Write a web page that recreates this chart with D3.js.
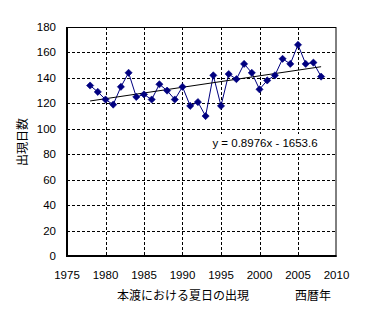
<!DOCTYPE html>
<html>
<head>
<meta charset="utf-8">
<script src="https://cdn.jsdelivr.net/npm/d3@7"></script>
<style>
  html, body { margin: 0; padding: 0; background: #fff; }
  svg { display: block; }
  text { font-family: Arial, "Liberation Sans", sans-serif; fill: #000; }
  .jp { font-family: "Noto Sans CJK JP", sans-serif; }
</style>
</head>
<body>
<svg id="chart" width="380" height="322"></svg>
<script>
// Summer days (max temp >= 25°C) per year at Hondo
const years = [1978, 1979, 1980, 1981, 1982, 1983, 1984, 1985, 1986, 1987, 1988,
               1989, 1990, 1991, 1992, 1993, 1994, 1995, 1996, 1997, 1998, 1999,
               2000, 2001, 2002, 2003, 2004, 2005, 2006, 2007, 2008];
const days = [134, 129, 123, 119, 133, 144, 125, 127, 123, 135, 130,
              123, 133, 118, 121, 110, 142, 118, 143, 139, 151, 144,
              131, 138, 142, 155, 151, 166, 151, 152, 141];

// Linear trend: y = slope * x + intercept
const trendSlope = 0.8976;
const trendIntercept = -1653.6;
const trendLabel = "y = 0.8976x - 1653.6";

const xTicks = [1975, 1980, 1985, 1990, 1995, 2000, 2005, 2010];
const yTicks = [0, 20, 40, 60, 80, 100, 120, 140, 160, 180];

const xTitle = "本渡における夏日の出現";
const xUnit = "西暦年";
const yTitle = "出現日数";

const svg = d3.select("#chart");
const plotL = 67, plotR = 336.5, plotT = 27, plotB = 256;

const x = d3.scaleLinear().domain([1975, 2010]).range([plotL, plotR]);
const y = d3.scaleLinear().domain([0, 180]).range([plotB, plotT]);

// dashed grid
svg.append("g").selectAll("line")
  .data(yTicks.filter(t => t > 0 && t < 180))
  .join("line")
  .attr("x1", plotL).attr("x2", plotR)
  .attr("y1", d => Math.round(y(d)) + 0.5).attr("y2", d => Math.round(y(d)) + 0.5)
  .attr("stroke", "#000").attr("stroke-width", 1)
  .attr("stroke-dasharray", "3,2");

svg.append("g").selectAll("line")
  .data(xTicks.filter(t => t > 1975 && t < 2010))
  .join("line")
  .attr("y1", plotT).attr("y2", plotB)
  .attr("x1", d => Math.round(x(d)) + 0.5).attr("x2", d => Math.round(x(d)) + 0.5)
  .attr("stroke", "#000").attr("stroke-width", 1)
  .attr("stroke-dasharray", "3,2");

// plot frame
svg.append("rect")
  .attr("x", plotL + 0.5).attr("y", plotT + 0.5)
  .attr("width", plotR - plotL - 1).attr("height", plotB - plotT)
  .attr("fill", "none").attr("stroke", "#000").attr("stroke-width", 1);
svg.append("line")
  .attr("x1", plotL).attr("x2", plotL).attr("y1", plotT).attr("y2", plotB + 1)
  .attr("stroke", "#000").attr("stroke-width", 2);
svg.append("line")
  .attr("x1", plotL).attr("x2", plotR).attr("y1", plotB).attr("y2", plotB)
  .attr("stroke", "#000").attr("stroke-width", 2);

// tick labels
svg.append("g").selectAll("text")
  .data(yTicks).join("text")
  .attr("x", 56).attr("y", d => y(d))
  .attr("dy", "0.35em").attr("text-anchor", "end")
  .attr("font-size", 11.5)
  .text(d => d);

svg.append("g").selectAll("text")
  .data(xTicks).join("text")
  .attr("x", d => x(d)).attr("y", 275)
  .attr("dy", "0.35em").attr("text-anchor", "middle")
  .attr("font-size", 11.5)
  .text(d => d);

// data series
const line = d3.line().x((d, i) => x(years[i])).y(d => y(d));
svg.append("path")
  .datum(days)
  .attr("d", line)
  .attr("fill", "none").attr("stroke", "#000080").attr("stroke-width", 1);

// trend line
const t0 = years[0], t1 = years[years.length - 1];
svg.append("line")
  .attr("x1", x(t0)).attr("y1", y(trendSlope * t0 + trendIntercept))
  .attr("x2", x(t1)).attr("y2", y(trendSlope * t1 + trendIntercept))
  .attr("stroke", "#000").attr("stroke-width", 1);

// diamond markers
const r = 3.6;
svg.append("g").selectAll("path")
  .data(days).join("path")
  .attr("transform", (d, i) => `translate(${x(years[i])},${y(d)})`)
  .attr("d", `M0,${-r}L${r},0L0,${r}L${-r},0Z`)
  .attr("fill", "#000080").attr("stroke", "#000080").attr("stroke-width", 0.6);

// equation label on a white box
svg.append("rect")
  .attr("x", 204).attr("y", 134)
  .attr("width", 122).attr("height", 19)
  .attr("fill", "#fff");
svg.append("text")
  .attr("x", 265).attr("y", 143)
  .attr("dy", "0.35em").attr("text-anchor", "middle")
  .attr("font-size", 11.5)
  .text(trendLabel);

// titles
svg.append("text").attr("class", "jp")
  .attr("x", 183).attr("y", 296)
  .attr("dy", "0.35em").attr("text-anchor", "middle")
  .attr("font-size", 12)
  .text(xTitle);
svg.append("text").attr("class", "jp")
  .attr("x", 313).attr("y", 296)
  .attr("dy", "0.35em").attr("text-anchor", "middle")
  .attr("font-size", 12)
  .text(xUnit);
svg.append("text").attr("class", "jp")
  .attr("transform", "translate(23,142) rotate(-90)")
  .attr("dy", "0.35em").attr("text-anchor", "middle")
  .attr("font-size", 12)
  .text(yTitle);
</script>
</body>
</html>
